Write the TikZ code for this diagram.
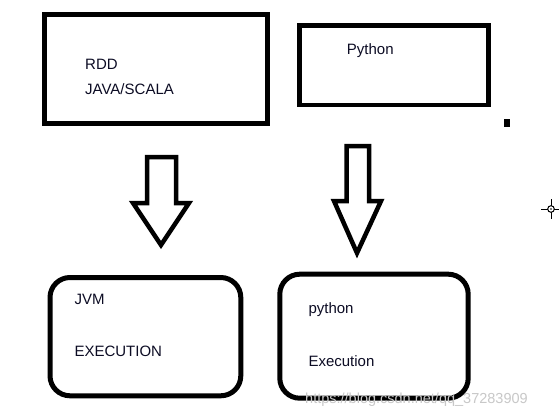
\documentclass[tikz,border=0pt]{standalone}
\usepackage{fontspec}
\setmainfont{Liberation Sans}
\usetikzlibrary{positioning}
\definecolor{inkblack}{RGB}{12,12,36}
\definecolor{markgray}{RGB}{200,200,200}

\begin{document}
\begin{tikzpicture}[x=1pt, y=-1pt,
    frame/.style={draw=black, line width=5pt, inner sep=0pt, outer sep=0pt,
                  anchor=north west},
    roundframe/.style={frame, rounded corners=20pt},
    txt/.style={anchor=base west, inner sep=0pt, text=inkblack,
                font=\fontsize{15}{18}\selectfont},
    blockarrow/.style={draw=black, line width=4.5pt, line join=miter, fill=white}]
  \useasboundingbox[fill=white] (0,0) rectangle (559,417);
  %--- source boxes ----------------------------------------------------------
  \node[frame, minimum width=223pt, minimum height=109pt] (jvmsrc) at (44.5,15) {};
  \node[txt] (rddtxt) at (85,70) {RDD};
  \node[txt] (langtxt) at (85,95) {JAVA/SCALA};
  \node[frame, line width=4.7pt, minimum width=188.6pt, minimum height=79.3pt]
    (pysrc) at (299.7,25.7) {};
  \node[txt] (pytxt) at (346.7,55) {Python};
  % stray mark and cursor
  \fill[black] (504,119) rectangle (510,127);
  \draw[line width=1pt] (541,209) -- (547.7,209) (554.3,209) -- (559,209)
    (551,199) -- (551,205.7) (551,212.3) -- (551,219);
  \draw[line width=1pt] (551,209) circle (3.3pt);
  \fill (551,209) circle (0.8pt);
  %--- block arrows ----------------------------------------------------------
  \draw[blockarrow] (147,157) -- (176,157) -- (176,203) -- (189,203)
    -- (161,245) -- (133,203) -- (147,203) -- cycle;
  \draw[blockarrow] (346.5,146) -- (369,146) -- (369,201) -- (381,201)
    -- (357,253) -- (334,201) -- (346.5,201) -- cycle;
  %--- execution boxes -------------------------------------------------------
  \node[roundframe, minimum width=190.8pt, minimum height=118.3pt]
    (jvmexec) at (50,277.5) {};
  \node[txt] (jvmtxt) at (74.3,304) {JVM};
  \node[txt] (exectxt) at (74.3,356) {EXECUTION};
  \node[roundframe, minimum width=188.4pt, minimum height=124pt]
    (pyexec) at (279.8,274.2) {};
  \node[txt] (pyexectxt) at (308.3,313.3) {python};
  \node[txt] (runtxt) at (308.3,366) {Execution};
  % watermark
  \node[txt, text=markgray, font=\fontsize{14.5}{17}\selectfont]
    (mark) at (305,403) {https://blog.csdn.net/qq\_37283909};
\end{tikzpicture}
\end{document}
